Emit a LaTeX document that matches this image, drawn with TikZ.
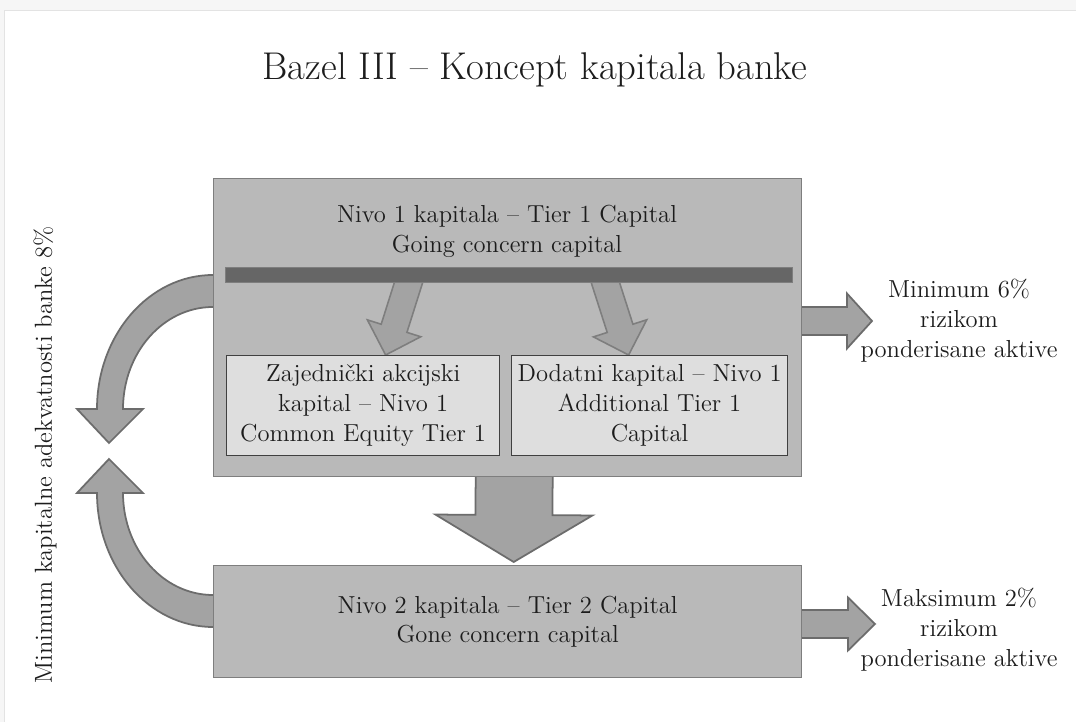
\documentclass[tikz,border=0pt]{standalone}
\usepackage{fontspec}
\usetikzlibrary{calc,positioning}

\newcommand{\pxu}{0.02cm}
\definecolor{boxgray}{HTML}{B9B9B9}
\definecolor{boxline}{HTML}{7E7E7E}
\definecolor{subfill}{HTML}{DEDEDE}
\definecolor{subline}{HTML}{404040}
\definecolor{arrfill}{HTML}{A3A3A3}
\definecolor{arrline}{HTML}{6C6C6C}
\definecolor{barfill}{HTML}{666666}
\definecolor{txt}{HTML}{1C1C1C}

\pgfdeclarelayer{bg}
\pgfdeclarelayer{boxes}
\pgfdeclarelayer{mid}
\pgfsetlayers{bg,boxes,mid,main}

\tikzset{
  capbox/.style={draw=boxline, fill=boxgray, line width=0.8pt, anchor=north west, inner sep=0pt},
  subbox/.style={draw=subline, fill=subfill, line width=0.7pt, anchor=north west, inner sep=0pt,
    text=txt, align=center, font=\fontsize{14}{17}\selectfont},
  lbl/.style={text=txt, align=center, font=\fontsize{14}{17}\selectfont},
  bigarrow/.style={draw=arrline, fill=arrfill, line width=1pt},
  slantarrow/.style={draw=boxline, fill=arrfill, line width=0.9pt},
}

% block arrow: [style]{tail}{tip}{shaft half width}{head half width}{head length}, sizes in px
\newcommand{\blockarrow}[6][bigarrow]{%
  \coordinate (hb) at ($(#3)!#6*\pxu!(#2)$);
  \path[#1] ($(#2)!#4*\pxu!90:(#3)$) -- ($(hb)!#4*\pxu!90:(#3)$) -- ($(hb)!#5*\pxu!90:(#3)$)
    -- (#3) -- ($(hb)!#5*\pxu!-90:(#3)$) -- ($(hb)!#4*\pxu!-90:(#3)$) -- ($(#2)!#4*\pxu!-90:(#3)$) -- cycle;}

\begin{document}
\begin{tikzpicture}[x=0.02cm,y=-0.02cm]
  \useasboundingbox (0,0) rectangle (1076,722);

  \begin{pgfonlayer}{bg}
    \fill[gray!7] (0,0) rectangle (1076,722);
    \fill[white] (4,10) rectangle (1076,722);
    \draw[gray!22] (4,722) |- (1076,10);
  \end{pgfonlayer}

  % the two capital boxes
  \begin{pgfonlayer}{boxes}
    \node[capbox, minimum width=588*\pxu, minimum height=298*\pxu] (tier1) at (213,178) {};
    \node[capbox, minimum width=588*\pxu, minimum height=112*\pxu, text=txt, align=center,
      font=\fontsize{14}{17}\selectfont] (tier2) at (213,565)
      {Nivo 2 kapitala -- Tier 2 Capital\\Gone concern capital};
  \end{pgfonlayer}

  \node[text=txt, font=\fontsize{22}{26}\selectfont] (title) at (535,70) {Bazel III -- Koncept kapitala banke};
  \node[lbl] (t1lbl) at (507,231) {Nivo 1 kapitala -- Tier 1 Capital\\Going concern capital};
  \node[anchor=north west, fill=barfill, draw=boxline, line width=0.5pt, inner sep=0pt,
    minimum width=567*\pxu, minimum height=15*\pxu] (bar) at (225,267) {};
  \node[subbox, minimum width=273*\pxu, minimum height=100*\pxu] (cet1) at (226,355)
    {Zajednički akcijski\\kapital -- Nivo 1\\Common Equity Tier 1};
  \node[subbox, minimum width=276*\pxu, minimum height=100*\pxu] (at1) at (511,355)
    {Dodatni kapital -- Nivo 1\\Additional Tier 1\\Capital};

  \node[lbl] (min6) at (959,321) {Minimum 6\%\\rizikom\\ponderisane aktive};
  \node[lbl] (max2) at (959,630) {Maksimum 2\%\\rizikom\\ponderisane aktive};
  \node[lbl, rotate=90] (side) at (45,455) {Minimum kapitalne adekvatnosti banke 8\%};

  % arrows from the bar into the two parts of tier 1
  \begin{pgfonlayer}{mid}
    \coordinate (la0) at ($(bar.center)+(-98,0)$);
    \coordinate (la1) at ($(cet1.north)+(22.5,0)$);
    \coordinate (ra0) at ($(bar.center)+(94,0)$);
    \coordinate (ra1) at ($(at1.north)+(-21,0)$);
    \blockarrow[slantarrow]{la0}{la1}{13.5}{28}{28}
    \blockarrow[slantarrow]{ra0}{ra1}{13.5}{28}{28}
  \end{pgfonlayer}

  \begin{pgfonlayer}{bg}
    % tier 1 -> tier 2
    \coordinate (da0) at ($(tier1.south)+(6.5,-4)$);
    \coordinate (da1) at ($(tier2.north)+(6,-3)$);
    \blockarrow{da0}{da1}{38.5}{78.5}{47}
    % to the right hand notes
    \coordinate (ta1) at ($(min6.center)+(-87,0)$);
    \coordinate (ta0) at ($(tier1.east |- ta1)+(-4,0)$);
    \blockarrow{ta0}{ta1}{14}{27.5}{25}
    \coordinate (ba1) at ($(max2.center)+(-84,-6)$);
    \coordinate (ba0) at ($(tier2.east |- ba1)+(-4,0)$);
    \blockarrow{ba0}{ba1}{14}{26.5}{27}
    % curved arrows towards the 8% note
    \path[bigarrow] (216,275) -- (213,275) .. controls (149,275) and (97,335) .. (97,409)
      -- (77,409) -- (109,443) -- (143,409) -- (123,409)
      .. controls (123,353) and (163,307) .. (213,307) -- (216,307) -- cycle;
    \path[bigarrow] (216,627) -- (213,627) .. controls (149,627) and (97,567) .. (97,493)
      -- (77,493) -- (109,459) -- (143,493) -- (123,493)
      .. controls (123,549) and (163,595) .. (213,595) -- (216,595) -- cycle;
  \end{pgfonlayer}

\end{tikzpicture}
\end{document}
